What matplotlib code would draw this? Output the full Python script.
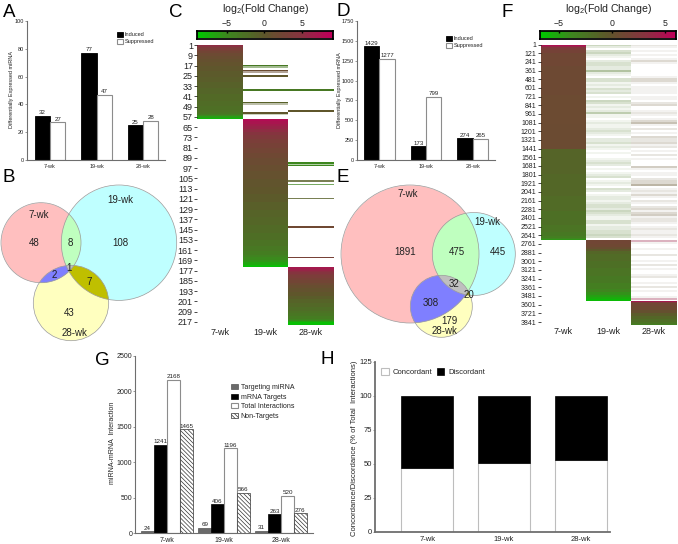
import numpy as np
import matplotlib
matplotlib.use("Agg")
import matplotlib.pyplot as plt
from matplotlib.colors import LinearSegmentedColormap, Normalize
from matplotlib.patches import Circle

plt.rcParams['font.family'] = ['Liberation Sans', 'DejaVu Sans']
plt.rcParams['mathtext.fontset'] = 'custom'
plt.rcParams['mathtext.rm'] = 'Liberation Sans'
plt.rcParams['mathtext.default'] = 'regular'
plt.rcParams['hatch.linewidth'] = 0.5

W, H = 678, 544
GREY = '#6e6e6e'
TEXT = '#222222'

weeks = ['7-wk', '19-wk', '28-wk']

# bar panels
a_induced = [32, 77, 25]
a_suppressed = [27, 47, 28]
d_induced = [1429, 173, 274]
d_suppressed = [1277, 799, 265]
g_targeting = [24, 69, 31]
g_targets = [1241, 406, 263]
g_total = [2168, 1196, 520]
g_non = [1465, 566, 276]
h_concordant = [47, 51, 53]
h_discordant = [53, 49, 47]

# venn labels
b_counts = ['48', '8', '108', '1', '2', '7', '43']
e_counts = ['1891', '475', '445', '32', '20', '308', '179']

# heatmap C: first row of each band and its log2 value
c7_starts = [1, 2, 3, 4, 5, 6, 8, 10, 12, 15, 18, 22, 26, 30, 35, 40, 45, 49, 52, 54, 55, 56, 57, 58]
c7_vals = [5.5, 5, 4.2, 3.5, 3, 2.4, 1.8, 1.3, 0.9, 0.5, 0.1, -0.3, -0.7, -1.1, -1.5, -1.9, -2.2,
           -2.5, -2.8, -3.2, -4, -5, -6.5, -8]
c7_end = 59
c19_starts = [59, 61, 63, 65, 67, 69, 72, 75, 78, 82, 86, 90, 95, 100, 106, 112, 118, 124, 130, 136,
              142, 148, 154, 158, 162, 165, 167, 169, 171, 173]
c19_vals = [8, 7.4, 6.8, 6.2, 5.5, 4.8, 4.1, 3.5, 3, 2.5, 2, 1.6, 1.2, 0.8, 0.4, 0, -0.4, -0.8, -1.2,
            -1.6, -2, -2.4, -2.9, -3.4, -4, -4.6, -5.2, -6, -7, -8.5]
c19_end = 175
c28_starts = [175, 176, 177, 178, 179, 180, 181, 183, 185, 187, 189, 191, 194, 197, 200, 203, 206, 209,
              211, 213, 215, 216, 217, 218]
c28_vals = [7, 6.5, 6, 5.4, 4.8, 4.2, 3.6, 3, 2.4, 1.8, 1.2, 0.6, 0, -0.6, -1.2, -1.8, -2.3, -2.8, -3.3,
            -3.9, -4.6, -5.5, -7, -8.5]
c28_end = 220
# single rows shared with another time point
c19_rows = [17, 18, 21, 22, 25, 36, 46, 47, 54, 55]
c19_row_vals = [-3.5, -3.5, 1.5, 1.5, 0, -3.5, -1, -1, 0, -2]
c19_row_alpha = [1, 0.5, 1, 0.5, 1, 1, 1, 0.4, 1, 0.3]
c28_rows = [36, 52, 53, 93, 94, 95, 107, 110, 121, 143, 167]
c28_row_vals = [-3.5, 0, 0, -5, -5, -5, -1, -5, -1, 2, 3]
c28_row_alpha = [1, 1, 1, 1, 0.4, 1, 0.8, 0.7, 0.8, 1, 1]

# heatmap F
f7_starts = [1, 15, 30, 50, 80, 120, 300, 700, 1100, 1441, 1800, 2100, 2300, 2500, 2600, 2650, 2680, 2695]
f7_vals = [5, 4, 3, 2.2, 1.6, 1.1, 0.9, 0.8, 0.7, -1.4, -1.6, -1.9, -2.2, -2.5, -2.9, -3.3, -3.9, -4.6]
f7_end = 2706
f19_starts = [2706, 2760, 2800, 2830, 2860, 2900, 3000, 3100, 3200, 3300, 3380, 3430, 3470, 3500, 3530]
f19_vals = [1.3, 1, 0.5, -0.5, -1.5, -1.9, -2.2, -2.5, -2.9, -3.3, -3.8, -4.4, -5, -5.6, -6.2]
f19_end = 3551
f28_starts = [3551, 3565, 3585, 3620, 3680, 3720, 3760, 3800, 3840, 3865]
f28_vals = [4.5, 2.5, 1.3, 0.9, 0.2, -0.8, -1.5, -2, -2.6, -3.4]
f28_end = 3876
# sparse rows, read as strength of the streak per 28 row band (0 to 9)
f19_streaks = [4, 2, 0, 3, 4, 2, 1, 0, 2, 3, 3, 2, 2, 6, 2, 1, 0, 3, 3, 1, 2, 1, 3, 2, 3,
               0, 1, 0, 4, 3, 1, 2, 1, 2, 5, 1, 1, 0, 1, 2, 1, 1, 2, 3, 2, 1, 0, 2, 2,
               3, 1, 2, 1, 0, 1, 0, 0, 1, 2, 3, 2, 0, 1, 0, 1, 2, 3, 0, 1, 2, 1, 0, 3,
               2, 0, 1, 2, 2, 1, 2, 3, 3, 2, 4, 3, 2, 1, 1, 3, 3, 1, 2, 2, 3, 3, 4, 3, 0]
f28_streaks = [2, 1, 0, 1, 0, 1, 0, 1, 3, 1, 0, 0, 0, 0, 0, 0, 1, 3, 3, 1, 0, 1, 1, 1, 1,
               0, 1, 1, 0, 2, 3, 0, 0, 1, 2, 1, 0, 1, 3, 5, 1, 0, 2, 0, 1, 0, 3, 2, 2,
               3, 1, 2, 0, 1, 0, 2, 0, 1, 0, 0, 0, 4, 1, 0, 1, 1, 0, 2, 3, 3, 6, 0, 1,
               2, 1, 3, 1, 0, 2, 1, 0, 2, 3, 1, 3, 4, 1, 2, 2, 1, 0, 1, 2, 1, 1, 2, 1, 0,
               4, 1, 0, 0, 1, 0, 0, 2, 0, 0, 1, 0, 2, 0, 1, 0, 0, 1, 2, 0, 0, 1, 0, 2, 0,
               1, 0, 0, 1, 3]
f28_pink = [98, 127]
band_rows = 27.6

fold_cmap = LinearSegmentedColormap.from_list('fold', [
    (0.0, (0.0, 0.78, 0.0)),
    (0.22, (0.24, 0.53, 0.12)),
    (0.5, (0.37, 0.34, 0.17)),
    (0.78, (0.53, 0.2, 0.25)),
    (1.0, (0.75, 0.0, 0.35)),
])


def px_axes(fig, left, top, right, bottom):
    """Axes placed by pixel edges of the picture."""
    return fig.add_axes([left / W, 1 - bottom / H, (right - left) / W, (bottom - top) / H])


def style_bar_axes(ax, xlim, ymax, yticks, size, lw=0.8):
    ax.set_xlim(*xlim)
    ax.set_ylim(0, ymax)
    ax.set_yticks(yticks)
    ax.set_xticks(range(3), weeks)
    ax.spines[['top', 'right']].set_visible(False)
    ax.spines[['left', 'bottom']].set_color(GREY)
    ax.spines[['left', 'bottom']].set_linewidth(lw)
    ax.tick_params(axis='y', labelsize=size, length=1.5, width=0.5, pad=0.5, color=GREY, labelcolor=TEXT)
    ax.tick_params(axis='x', labelsize=size, length=0, pad=3, labelcolor=TEXT)
    ax.patch.set_alpha(0)


def two_bars(ax, induced, suppressed, width=0.33):
    x = np.arange(3)
    b1 = ax.bar(x - width / 2, induced, width, color='black', edgecolor='black', linewidth=0.6, label='Induced')
    b2 = ax.bar(x + width / 2, suppressed, width, color='white', edgecolor='#8c8c8c', linewidth=0.8, label='Suppressed')
    ax.bar_label(b1, padding=0.5, fontsize=4.4, color=TEXT)
    ax.bar_label(b2, padding=0.5, fontsize=4.4, color=TEXT)


def small_legend(ax, ov, x, y, size, **kw):
    return ax.legend(loc='upper left', bbox_to_anchor=(x, y), bbox_transform=ov.transData, frameon=False,
                     fontsize=size, borderpad=0, borderaxespad=0, labelcolor=TEXT, **kw)


def draw_bands(ax, col, starts, vals, end, norm):
    edges = np.array(list(starts) + [end], dtype=float) - 0.5
    ax.barh(edges[:-1], 1, height=np.diff(edges), left=col, align='edge',
            color=fold_cmap(norm(np.array(vals))), linewidth=0, antialiased=False)


def draw_rows(ax, col, rows, vals, alphas, norm):
    colors = fold_cmap(norm(np.array(vals)))
    colors[:, 3] = alphas
    ax.barh(rows, 1, height=1, left=col, color=colors, linewidth=0, antialiased=False)


def draw_streaks(ax, col, streaks, value, norm, pink=()):
    strength = np.array(streaks) / 14
    colors = np.tile(fold_cmap(norm(value)), (len(streaks), 1))
    colors[:, 3] = strength
    for i in pink:
        colors[i] = fold_cmap(norm(4))
        colors[i, 3] = 0.35
    tops = np.arange(len(streaks)) * band_rows + 0.5
    ax.barh(tops, 1, height=band_rows, left=col, align='edge', color=colors, linewidth=0, antialiased=False)


def colorbar(fig, ov, left, right, vmin, vmax, norm, cx):
    cb = px_axes(fig, left, 31, right, 38.5)
    cb.imshow(np.linspace(vmin, vmax, 48)[None, :], cmap=fold_cmap, norm=norm, aspect='auto',
              extent=[vmin, vmax, 0, 1], interpolation='nearest')
    cb.set_xticks([-5, 0, 5])
    cb.set_yticks([])
    cb.tick_params(axis='x', direction='in', length=1.5, width=1, labelsize=6.3, top=True, bottom=False,
                   labeltop=True, labelbottom=False, pad=2.5, color='black', labelcolor=TEXT)
    for s in cb.spines.values():
        s.set_linewidth(1.3)
    ov.text(cx, 8.5, 'log$_2$(Fold Change)', ha='center', va='center', fontsize=7.6, color=TEXT)


def venn(ov, circles, box):
    x0, x1, y0, y1 = box
    xs = np.arange(x0, x1, 0.25)
    ys = np.arange(y0, y1, 0.25)
    xx, yy = np.meshgrid(xs, ys)
    code = np.zeros(xx.shape, dtype=int)
    for bit, (cx, cy, r) in enumerate(circles):
        code += ((xx - cx) ** 2 + (yy - cy) ** 2 <= r ** 2).astype(int) << bit
    palette = np.array([[1, 1, 1, 0], [1, .75, .75, 1], [.75, 1, 1, 1], [.75, 1, .75, 1],
                        [1, 1, .75, 1], [.5, .5, 1, 1], [.75, .75, 0, 1], [.75, .75, .75, 1]])
    ov.imshow(palette[code], extent=[x0, x1, y1, y0], aspect='auto', interpolation='antialiased')
    for cx, cy, r in circles:
        ov.add_patch(Circle((cx, cy), r, fill=False, edgecolor='#9a9a9a', linewidth=0.5))


def main():
    fig = plt.figure(figsize=(W / 100, H / 100), dpi=100, facecolor='white')
    ov = fig.add_axes([0, 0, 1, 1], zorder=0)
    ov.axis('off')

    # panel A
    ax = px_axes(fig, 27, 21, 165, 160)
    ax.set_zorder(2)
    two_bars(ax, a_induced, a_suppressed)
    style_bar_axes(ax, (-0.495, 2.47), 100, range(0, 101, 20), 4)
    small_legend(ax, ov, 117, 32, 4, handlelength=1, handleheight=0.9, handletextpad=0.4, labelspacing=0.35)
    ov.text(12, 90, 'Differentially Expressed miRNA', rotation=90, ha='center', va='center', fontsize=4, color=TEXT)

    # panel D
    ax = px_axes(fig, 357, 21, 495, 160)
    ax.set_zorder(2)
    two_bars(ax, d_induced, d_suppressed)
    style_bar_axes(ax, (-0.48, 2.48), 1750, range(0, 1751, 250), 4)
    small_legend(ax, ov, 446, 36, 4, handlelength=1, handleheight=0.9, handletextpad=0.4, labelspacing=0.35)
    ov.text(339, 90, 'Differentially Expressed mRNA', rotation=90, ha='center', va='center', fontsize=4, color=TEXT)

    # venns
    venn(ov, [(41, 242.7, 40), (119, 242.7, 57.7), (71, 303, 37.7)], (0, 178, 180, 344))
    b_xy = [(34, 243), (70, 243), (120, 243), (69, 268), (54, 275), (89, 282), (69, 313)]
    for (x, y), s in zip(b_xy, b_counts):
        ov.text(x, y, s, ha='center', va='center', fontsize=7, color=TEXT)
    for (x, y), s in zip([(39, 215), (120, 200), (74, 333)], weeks):
        ov.text(x, y, s, ha='center', va='center', fontsize=7, color=TEXT)

    venn(ov, [(410, 254, 69), (473.8, 254, 41.5), (441.3, 306.3, 31)], (338, 518, 180, 340))
    e_xy = [(405, 252), (457, 252), (498, 252), (454, 284), (469, 295), (431, 303), (449, 321)]
    for (x, y), s in zip(e_xy, e_counts):
        ov.text(x, y, s, ha='center', va='center', fontsize=7, color=TEXT)
    for (x, y), s in zip([(408, 194), (487, 222), (444, 331)], weeks):
        ov.text(x, y, s, ha='center', va='center', fontsize=7, color=TEXT)

    # panel C
    norm_c = Normalize(-9, 9)
    colorbar(fig, ov, 197, 333, -9, 9.2, norm_c, 265)
    ax = px_axes(fig, 197, 44.5, 333.5, 325)
    ax.set_xlim(0, 3)
    ax.set_ylim(c28_end - 0.5, 0.5)
    draw_bands(ax, 0, c7_starts, c7_vals, c7_end, norm_c)
    draw_bands(ax, 1, c19_starts, c19_vals, c19_end, norm_c)
    draw_bands(ax, 2, c28_starts, c28_vals, c28_end, norm_c)
    draw_rows(ax, 1, c19_rows, c19_row_vals, c19_row_alpha, norm_c)
    draw_rows(ax, 2, c28_rows, c28_row_vals, c28_row_alpha, norm_c)
    ax.set_yticks(range(1, 218, 8))
    ax.set_xticks([0.5, 1.5, 2.5], weeks)
    ax.tick_params(axis='y', labelsize=6.5, length=2, width=0.5, pad=1, labelcolor=TEXT)
    ax.tick_params(axis='x', labelsize=6.5, length=0, pad=2, labelcolor=TEXT)
    for s in ax.spines.values():
        s.set_visible(False)

    # panel F
    norm_f = Normalize(-6.8, 6)
    colorbar(fig, ov, 540, 676, -6.8, 6, norm_f, 608)
    ax = px_axes(fig, 540.7, 44.5, 676.5, 324.5)
    ax.set_xlim(0, 3)
    ax.set_ylim(f28_end - 0.5, 0.5)
    draw_bands(ax, 0, f7_starts, f7_vals, f7_end, norm_f)
    draw_bands(ax, 1, f19_starts, f19_vals, f19_end, norm_f)
    draw_bands(ax, 2, f28_starts, f28_vals, f28_end, norm_f)
    draw_streaks(ax, 1, f19_streaks, -2.5, norm_f)
    draw_streaks(ax, 2, f28_streaks, 0, norm_f, f28_pink)
    ax.set_yticks([1] + list(range(121, 3842, 120)))
    ax.set_xticks([0.5, 1.5, 2.5], weeks)
    ax.tick_params(axis='y', labelsize=5, length=2, width=0.5, pad=1, labelcolor=TEXT)
    ax.tick_params(axis='x', labelsize=6.5, length=0, pad=2, labelcolor=TEXT)
    for s in ax.spines.values():
        s.set_visible(False)

    # panel G
    ax = px_axes(fig, 135, 356, 313, 533)
    ax.set_zorder(2)
    x = np.arange(3)
    w = 0.226
    bars = [
        ax.bar(x - 1.5 * w, g_targeting, w, color='#6a6a6a', edgecolor='#555555', linewidth=0.5, label='Targeting miRNA'),
        ax.bar(x - 0.5 * w, g_targets, w, color='black', edgecolor='black', linewidth=0.5, label='mRNA Targets'),
        ax.bar(x + 0.5 * w, g_total, w, color='white', edgecolor='#8c8c8c', linewidth=0.8, label='Total Interactions'),
        ax.bar(x + 1.5 * w, g_non, w, color='white', edgecolor='#333333', linewidth=0.5, hatch='\\\\\\\\\\\\\\\\', label='Non-Targets'),
    ]
    for b in bars:
        ax.bar_label(b, padding=0.5, fontsize=4.5, color=TEXT)
    style_bar_axes(ax, (-0.56, 2.56), 2500, range(0, 2501, 500), 5)
    small_legend(ax, ov, 231, 384, 5, handlelength=1, handleheight=0.8, handletextpad=0.4, labelspacing=0.35)
    ov.text(113, 443, 'miRNA-mRNA  Interaction', rotation=90, ha='center', va='center', fontsize=5, color=TEXT)

    # panel H
    ax = px_axes(fig, 375, 362, 610, 532)
    ax.set_zorder(2)
    ax.bar(x, h_concordant, 0.67, color='white', edgecolor='#bdbdbd', linewidth=0.8, label='Concordant')
    ax.bar(x, h_discordant, 0.67, bottom=h_concordant, color='black', edgecolor='black', linewidth=0.5, label='Discordant')
    style_bar_axes(ax, (-0.68, 2.38), 125, range(0, 126, 25), 5.5, lw=1.3)
    small_legend(ax, ov, 381, 368, 5.5, ncols=2, handlelength=1, handleheight=1, handletextpad=0.5, columnspacing=0.6)
    ov.text(355, 448, 'Concordance/Discordance (% of Total  Interactions)', rotation=90, ha='center', va='center',
            fontsize=5.5, color=TEXT)

    # panel letters
    letters = [('A', 9, 17), ('B', 9, 182), ('C', 176, 17), ('D', 343, 15.5), ('E', 343, 182), ('F', 507, 17),
               ('G', 102, 365), ('H', 327, 364)]
    for s, x0, y0 in letters:
        ov.text(x0, y0, s, ha='center', va='baseline', fontsize=13.5, color='black')

    ov.set_xlim(0, W)
    ov.set_ylim(H, 0)
    fig.savefig('out.png', dpi=100)


if __name__ == "__main__":
    main()
